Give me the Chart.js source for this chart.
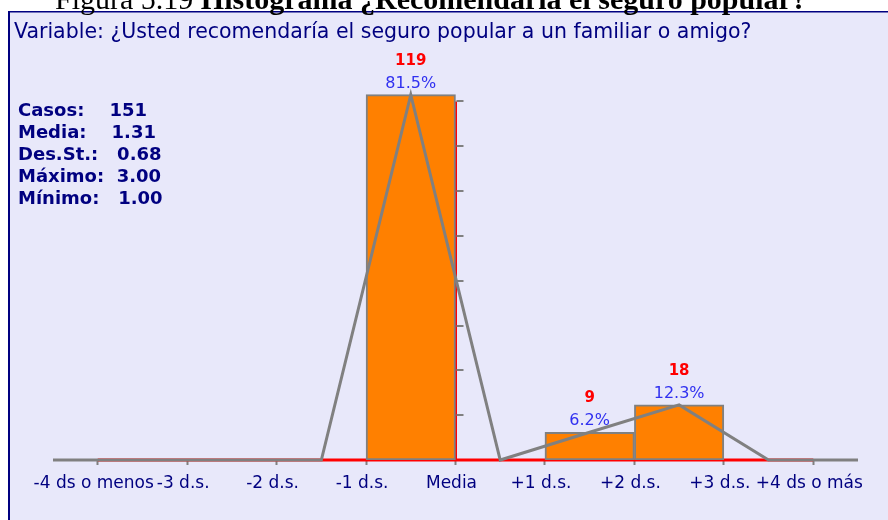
<!DOCTYPE html>
<html>
<head>
<meta charset="utf-8">
<script src="https://cdn.jsdelivr.net/npm/chart.js@4.4.0/dist/chart.umd.min.js"></script>
<style>
  html, body { margin: 0; padding: 0; background: #fff; }
  #wrap { width: 888px; height: 520px; }
</style>
</head>
<body>
<div id="wrap"><canvas id="chart" width="888" height="520"></canvas></div>
<script>
const figureTitle = 'Figura 5.19 ';
const figureTitleBold = 'Histograma ¿Recomendaría el seguro popular?';
const variableLabel = 'Variable: ¿Usted recomendaría el seguro popular a un familiar o amigo?';

// bins are 1 d.s. wide, centred on the half steps
const binCenters = [-4.5, -3.5, -2.5, -1.5, -0.5, 0.5, 1.5, 2.5, 3.5, 4.5];
const counts = [0, 0, 0, 0, 119, 0, 9, 18, 0, 0];
const percents = [0, 0, 0, 0, 81.5, 0, 6.2, 12.3, 0, 0];

const tickValues = [-4, -3, -2, -1, 0, 1, 2, 3, 4];
const tickLabels = ['-4 ds o menos', '-3 d.s.', '-2 d.s.', '-1 d.s.', 'Media', '+1 d.s.', '+2 d.s.', '+3 d.s.', '+4 ds o más'];
const percentTicks = [0, 10, 20, 30, 40, 50, 60, 70, 80];

// spacing as in the source listing
const statLines = ['Casos:    151', 'Media:    1.31', 'Des.St.:   0.68', 'Máximo:  3.00', 'Mínimo:   1.00'];

const NAVY = '#000080';
const FONT = '"DejaVu Sans", sans-serif';

const barIdx = counts.map((c, i) => (c > 0 ? i : -1)).filter(i => i >= 0);

const panelPlugin = {
  id: 'panel',
  beforeDraw(chart) {
    const ctx = chart.ctx;
    ctx.save();
    ctx.fillStyle = '#ffffff';
    ctx.fillRect(0, 0, chart.width, chart.height);
    ctx.fillStyle = '#E8E8FA';
    ctx.fillRect(8, 11, chart.width - 8, chart.height - 11);
    ctx.fillStyle = NAVY;
    ctx.fillRect(8, 11, chart.width - 8, 1.5);
    ctx.fillRect(8, 11, 2, chart.height - 11);

    // figure caption, cut off at the top like the source
    ctx.fillStyle = '#000';
    ctx.textBaseline = 'alphabetic';
    ctx.textAlign = 'left';
    ctx.font = '30px "Liberation Serif", serif';
    ctx.fillText(figureTitle, 55, 9);
    const w = ctx.measureText(figureTitle).width;
    ctx.font = 'bold 30px "Liberation Serif", serif';
    ctx.fillText(figureTitleBold, 55 + w, 9);

    ctx.fillStyle = NAVY;
    ctx.textBaseline = 'middle';
    ctx.font = '20.5px ' + FONT;
    ctx.fillText(variableLabel, 14, 33);

    ctx.font = 'bold 18px ' + FONT;
    statLines.forEach((line, i) => {
      ctx.fillText(line, 18, 111 + i * 22.2);
    });
    ctx.restore();
  }
};

const labelPlugin = {
  id: 'barLabels',
  afterDatasetsDraw(chart) {
    const ctx = chart.ctx;
    const xs = chart.scales.x;
    const ys = chart.scales.y;
    ctx.save();

    // tick marks on the percent axis (right side of "Media")
    const x0 = xs.getPixelForValue(0);
    ctx.strokeStyle = '#808080';
    ctx.lineWidth = 2;
    percentTicks.slice(1).forEach(v => {
      const y = Math.round(ys.getPixelForValue(v));
      ctx.beginPath();
      ctx.moveTo(x0 + 1, y);
      ctx.lineTo(x0 + 8, y);
      ctx.stroke();
    });

    const meta = chart.getDatasetMeta(0);
    ctx.textAlign = 'center';
    ctx.textBaseline = 'middle';
    meta.data.forEach((bar, j) => {
      const i = barIdx[j];
      ctx.fillStyle = '#FF0000';
      ctx.font = 'bold 15px ' + FONT;
      ctx.fillText(String(counts[i]), bar.x, bar.y - 34);
      ctx.fillStyle = '#3030F0';
      ctx.font = '16px ' + FONT;
      ctx.fillText(percents[i].toFixed(1) + '%', bar.x, bar.y - 11);
    });
    ctx.restore();
  }
};

const ctx = document.getElementById('chart').getContext('2d');
new Chart(ctx, {
  type: 'bar',
  data: {
    datasets: [
      {
        label: 'Frecuencia',
        data: barIdx.map(i => ({ x: binCenters[i], y: percents[i] })),
        backgroundColor: '#FF8000',
        borderColor: '#808080',
        borderWidth: 2,
        borderSkipped: false,
        barPercentage: 1,
        categoryPercentage: 1,
        order: 2
      },
      {
        type: 'line',
        label: 'Polígono',
        data: binCenters.map((x, i) => ({ x, y: percents[i] })),
        borderColor: '#808080',
        borderWidth: 3,
        pointRadius: 0,
        tension: 0,
        fill: false,
        clip: false,
        order: 1
      },
      {
        type: 'line',
        label: 'eje x',
        data: [{ x: tickValues[0], y: 0 }, { x: tickValues[tickValues.length - 1], y: 0 }],
        borderColor: '#FF0000',
        borderWidth: 3,
        pointRadius: 0,
        clip: false,
        order: 3
      },
      {
        type: 'line',
        label: 'eje y',
        data: [{ x: 0, y: 0 }, { x: 0, y: percentTicks[percentTicks.length - 1] }],
        borderColor: '#FF0000',
        borderWidth: 3,
        pointRadius: 0,
        clip: false,
        order: 3
      }
    ]
  },
  options: {
    responsive: false,
    animation: false,
    layout: { padding: { left: 53, right: 30, top: 79, bottom: 0 } },
    plugins: {
      legend: { display: false },
      tooltip: { enabled: false }
    },
    scales: {
      x: {
        type: 'linear',
        min: -4.5,
        max: 4.5,
        offset: false,
        afterBuildTicks: (scale) => {
          scale.ticks = tickValues.map(v => ({ value: v }));
        },
        afterFit: (scale) => { scale.height = 60; },
        ticks: {
          autoSkip: false,
          maxRotation: 0,
          padding: 8,
          labelOffset: -4,
          color: NAVY,
          font: { family: 'DejaVu Sans', size: 17 },
          callback: (value) => tickLabels[tickValues.indexOf(value)]
        },
        grid: {
          offset: false,
          drawOnChartArea: false,
          tickLength: 5,
          tickColor: '#808080',
          tickWidth: 2
        },
        border: { display: false }
      },
      y: {
        display: false,
        min: 0,
        max: 85
      }
    }
  },
  plugins: [panelPlugin, labelPlugin]
});
</script>
</body>
</html>
